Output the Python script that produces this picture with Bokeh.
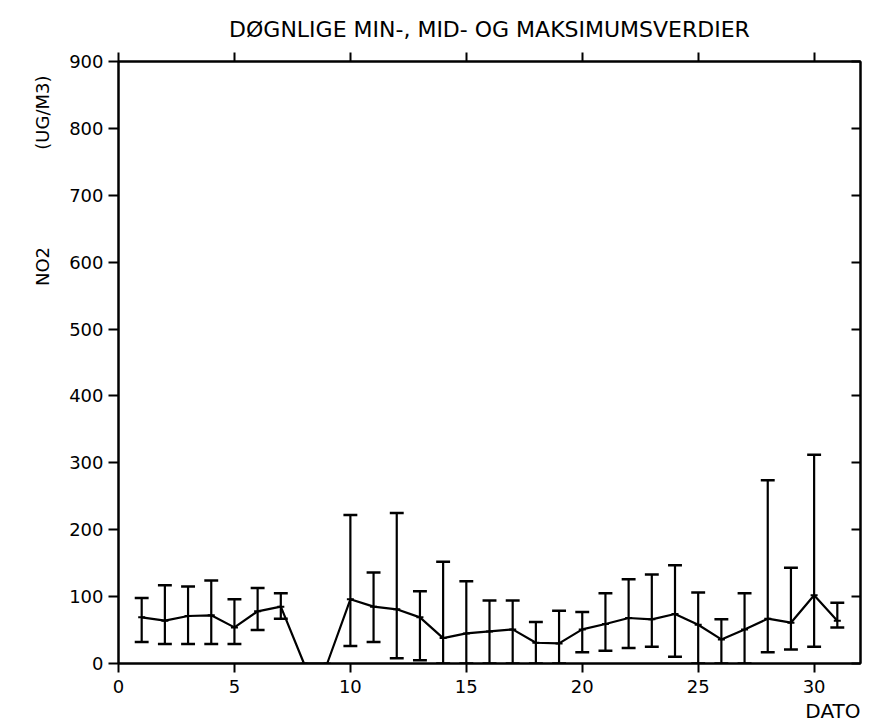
from bokeh.plotting import figure
from bokeh.models import LinearAxis, FixedTicker, Range1d, ColumnDataSource, Title
from bokeh.embed import file_html
from bokeh.resources import INLINE

# ---- data ----
days = list(range(1, 32))
mean_vals = [69, 64, 71, 72, 54, 78, 85, 0, 0, 96, 85, 81, 69, 38, 45, 48,
             51, 31, 30, 51, 59, 68, 66, 74, 58, 36, 51, 67, 61, 102, 64]
min_vals = [32, 29, 29, 29, 29, 50, 67, None, None, 26, 32, 8, 5, 0, 0, 0,
            0, 0, 0, 17, 19, 23, 25, 10, 0, 0, 0, 17, 21, 25, 54]
max_vals = [98, 117, 115, 124, 96, 113, 105, None, None, 222, 136, 225, 108, 152, 123, 94,
            94, 62, 79, 77, 105, 126, 133, 147, 106, 66, 105, 274, 143, 312, 91]
x_ticks = [0, 5, 10, 15, 20, 25, 30]
y_ticks = [0, 100, 200, 300, 400, 500, 600, 700, 800, 900]

title_text = "DØGNLIGE MIN-, MID- OG MAKSIMUMSVERDIER"
y_label = "NO2" + "\u00a0" * 17 + "(UG/M3)"
x_label = "DATO"
FONT = "DejaVu Sans"

p = figure(width=869, height=724, output_backend="svg", toolbar_location=None,
           x_range=Range1d(0, 32), y_range=Range1d(0, 900),
           min_border_left=118, min_border_right=9, min_border_top=61, min_border_bottom=61,
           x_axis_location=None, y_axis_location=None)
p.grid.visible = False
p.outline_line_color = "black"
p.outline_line_width = 2
p.background_fill_color = "white"
p.border_fill_color = "white"

def style_axis(ax, labels=True):
    ax.axis_line_color = "black"
    ax.axis_line_width = 2
    ax.major_tick_line_color = "black"
    ax.major_tick_line_width = 2
    ax.minor_tick_line_color = None
    ax.major_label_text_font = FONT
    ax.major_label_text_color = "black"
    ax.major_label_text_font_size = "18px"
    if not labels:
        ax.major_label_text_font_size = "2px"
        ax.major_label_text_alpha = 0
        ax.major_label_standoff = 0

# bottom
bx = LinearAxis(ticker=FixedTicker(ticks=x_ticks), major_tick_out=9, major_tick_in=0,
                major_label_standoff=7)
style_axis(bx)
p.add_layout(bx, "below")
# left
ly = LinearAxis(ticker=FixedTicker(ticks=y_ticks), major_tick_out=10, major_tick_in=0,
                major_label_standoff=5)
style_axis(ly)
p.add_layout(ly, "left")
# top
tx = LinearAxis(ticker=FixedTicker(ticks=x_ticks), major_tick_out=9, major_tick_in=0,
                major_label_overrides={t: "" for t in x_ticks})
style_axis(tx, labels=False)
p.add_layout(tx, "above")
# right
ry = LinearAxis(ticker=FixedTicker(ticks=y_ticks), major_tick_out=0, major_tick_in=9,
                major_label_overrides={t: "" for t in y_ticks})
style_axis(ry, labels=False)
p.add_layout(ry, "right")

# error bars
bd = [d for d, lo in zip(days, min_vals) if lo is not None]
blo = [lo for lo in min_vals if lo is not None]
bhi = [hi for hi in max_vals if hi is not None]
cap = 0.3
src = ColumnDataSource(dict(x=bd, lo=blo, hi=bhi,
                            x0=[d - cap for d in bd], x1=[d + cap for d in bd]))
p.segment(x0="x", y0="lo", x1="x", y1="hi", source=src, line_color="black", line_width=2.2)
p.segment(x0="x0", y0="hi", x1="x1", y1="hi", source=src, line_color="black", line_width=2.5)
p.segment(x0="x0", y0="lo", x1="x1", y1="lo", source=src, line_color="black", line_width=2.5)

# mean line
p.line(days, mean_vals, line_color="black", line_width=2.2)
p.scatter(days, mean_vals, marker="dash", size=7, line_color="black", line_width=2)

# texts as titles (outside the frame)
p.add_layout(Title(text=title_text, align="center", text_font=FONT, text_font_size="22px",
                   text_font_style="normal", text_color="black", standoff=22), "above")
p.add_layout(Title(text=x_label, align="right", text_font=FONT, text_font_size="20px",
                   text_font_style="normal", text_color="black", standoff=2), "below")
p.add_layout(Title(text=y_label, align="right", text_font=FONT, text_font_size="18px",
                   text_font_style="normal", text_color="black", standoff=27, offset=14), "left")

open("out.html", "w").write(file_html(p, INLINE))
